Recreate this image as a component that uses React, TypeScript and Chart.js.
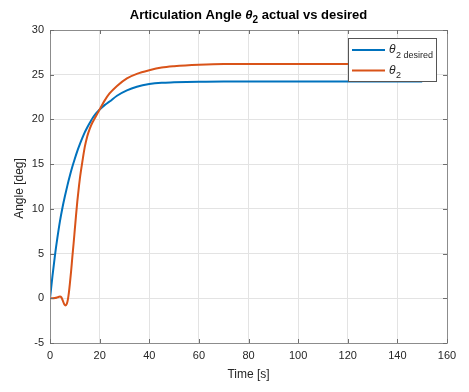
import React, { useEffect, useRef } from "react";
import { Chart, registerables } from "chart.js";

Chart.register(...registerables);

// ---- data ----
const desiredTime = [0, 1, 2, 3, 4, 5, 6, 7, 8, 9, 10, 11, 12, 13, 14, 15, 16, 17.5, 20, 22, 24, 27, 31, 35, 40, 45, 50, 60, 70, 80, 100, 120, 150];
const desiredAngle = [0, 2.5, 4.8, 6.8, 8.6, 10.1, 11.4, 12.6, 13.7, 14.7, 15.6, 16.45, 17.2, 17.9, 18.55, 19.1, 19.6, 20.3, 21.1, 21.6, 22.0, 22.65, 23.25, 23.65, 23.95, 24.1, 24.15, 24.22, 24.25, 24.25, 24.25, 24.25, 24.25];

const actualTime = [0, 1, 2, 3, 4, 4.6, 5.2, 5.8, 6.3, 6.8, 7.2, 7.6, 8, 8.5, 9, 9.5, 10, 10.5, 11, 11.5, 12, 12.5, 13, 14, 15, 16, 17, 18, 19, 20, 22, 24, 27, 31, 35, 40, 45, 50, 60, 70, 80, 100, 120, 150];
const actualAngle = [0, 0, 0.02, 0.1, 0.2, 0.1, -0.3, -0.7, -0.8, -0.6, -0.15, 0.6, 1.6, 3.0, 4.6, 6.1, 7.7, 9.3, 10.8, 12.1, 13.3, 14.3, 15.2, 16.9, 18.1, 18.95, 19.6, 20.1, 20.6, 21.1, 22.1, 22.9, 23.75, 24.6, 25.1, 25.5, 25.8, 25.95, 26.12, 26.2, 26.2, 26.2, 26.2, 26.2];

const xTicks = [0, 20, 40, 60, 80, 100, 120, 140, 160];
const yTicks = [-5, 0, 5, 10, 15, 20, 25, 30];

const titleParts = ["Articulation Angle ", "θ", "2", " actual vs desired"];
const xLabel = "Time [s]";
const yLabel = "Angle [deg]";
const legendSymbol = "θ";
const legendSubs = ["2 desired", "2"];

const BLUE = "#0072BD";
const ORANGE = "#D95319";
const FONT = '"Liberation Sans", Arial, Helvetica, sans-serif';
const TEXT = "#262626";

const overlay = {
  id: "matlabOverlay",
  afterDraw(chart: any) {
    const { ctx, chartArea } = chart;
    const { left, right, top, bottom } = chartArea;
    const xs = chart.scales.x;
    const ys = chart.scales.y;
    ctx.save();
    // frame
    ctx.strokeStyle = "#8c8c8c";
    ctx.lineWidth = 1;
    ctx.beginPath();
    ctx.rect(Math.round(left) + 0.5, Math.round(top) + 0.5, Math.round(right - left), Math.round(bottom - top));
    ctx.stroke();
    // inner ticks
    ctx.strokeStyle = "#6e6e6e";
    ctx.beginPath();
    xTicks.forEach((v) => {
      const px = Math.round(xs.getPixelForValue(v)) + 0.5;
      ctx.moveTo(px, bottom);
      ctx.lineTo(px, bottom - 4);
      ctx.moveTo(px, top);
      ctx.lineTo(px, top + 4);
    });
    yTicks.forEach((v) => {
      const py = Math.round(ys.getPixelForValue(v)) + 0.5;
      ctx.moveTo(left, py);
      ctx.lineTo(left + 4, py);
      ctx.moveTo(right, py);
      ctx.lineTo(right - 4, py);
    });
    ctx.stroke();

    // title with subscript
    ctx.fillStyle = "#000";
    ctx.textBaseline = "alphabetic";
    ctx.textAlign = "left";
    const fonts = [
      `bold 13px ${FONT}`,
      `italic bold 13px ${FONT}`,
      `bold 10px ${FONT}`,
      `bold 13px ${FONT}`,
    ];
    const dys = [0, 0, 4, 0];
    let total = 0;
    const widths = titleParts.map((t, i) => {
      ctx.font = fonts[i];
      const w = ctx.measureText(t).width;
      total += w;
      return w;
    });
    let x = (left + right) / 2 - total / 2;
    titleParts.forEach((t, i) => {
      ctx.font = fonts[i];
      ctx.fillText(t, x, 19 + dys[i]);
      x += widths[i];
    });

    // axis labels
    ctx.fillStyle = TEXT;
    ctx.font = `12px ${FONT}`;
    ctx.textAlign = "center";
    ctx.textBaseline = "middle";
    ctx.fillText(xLabel, (left + right) / 2, 375);
    ctx.save();
    ctx.translate(20, (top + bottom) / 2 + 2);
    ctx.rotate(-Math.PI / 2);
    ctx.fillText(yLabel, 0, 0);
    ctx.restore();

    // legend
    const bx = 348.5, by = 38.5, bw = 88, bh = 43;
    ctx.fillStyle = "#fff";
    ctx.fillRect(bx, by, bw, bh);
    ctx.strokeStyle = "#555";
    ctx.lineWidth = 1;
    ctx.strokeRect(bx, by, bw, bh);
    const rows = [
      { color: BLUE, y: 50, sub: legendSubs[0] },
      { color: ORANGE, y: 70.5, sub: legendSubs[1] },
    ];
    rows.forEach((r) => {
      ctx.strokeStyle = r.color;
      ctx.lineWidth = 2;
      ctx.beginPath();
      ctx.moveTo(352, r.y);
      ctx.lineTo(385, r.y);
      ctx.stroke();
      ctx.fillStyle = TEXT;
      ctx.textAlign = "left";
      ctx.textBaseline = "alphabetic";
      ctx.font = `italic 12px ${FONT}`;
      ctx.fillText(legendSymbol, 389, r.y + 3);
      const w = ctx.measureText(legendSymbol).width;
      ctx.font = `9px ${FONT}`;
      ctx.fillText(r.sub, 389 + w + 0.5, r.y + 7.5);
    });
    ctx.restore();
  },
};

export default function App() {
  const ref = useRef<HTMLCanvasElement | null>(null);
  useEffect(() => {
    document.body.style.margin = "0";
    if (!ref.current) return;
    const chart = new Chart(ref.current, {
      type: "line",
      data: {
        datasets: [
          {
            label: "θ2 desired",
            data: desiredTime.map((t, i) => ({ x: t, y: desiredAngle[i] })),
            borderColor: BLUE,
            backgroundColor: BLUE,
            borderWidth: 2,
            pointRadius: 0,
            cubicInterpolationMode: "monotone",
            order: 1,
          },
          {
            label: "θ2",
            data: actualTime.map((t, i) => ({ x: t, y: actualAngle[i] })),
            borderColor: ORANGE,
            backgroundColor: ORANGE,
            borderWidth: 2,
            pointRadius: 0,
            cubicInterpolationMode: "monotone",
            order: 0,
          },
        ],
      },
      options: {
        animation: false,
        responsive: false,
        devicePixelRatio: 1,
        layout: { padding: { top: 30, right: 22, left: 0, bottom: 0 } },
        plugins: {
          legend: { display: false },
          title: { display: false },
          tooltip: { enabled: false },
        },
        scales: {
          x: {
            type: "linear",
            min: 0,
            max: 160,
            afterBuildTicks: (s: any) => {
              s.ticks = xTicks.map((v) => ({ value: v }));
            },
            afterFit: (s: any) => {
              s.height = 49;
            },
            ticks: {
              color: TEXT,
              font: { family: FONT, size: 11 },
              padding: 6,
              maxRotation: 0,
            },
            grid: { color: "#e3e3e3", drawTicks: false },
            border: { display: false },
          },
          y: {
            type: "linear",
            min: -5,
            max: 30,
            afterBuildTicks: (s: any) => {
              s.ticks = yTicks.map((v) => ({ value: v }));
            },
            afterFit: (s: any) => {
              s.width = 50;
            },
            ticks: {
              color: TEXT,
              font: { family: FONT, size: 11 },
              padding: 6,
            },
            grid: { color: "#e3e3e3", drawTicks: false },
            border: { display: false },
          },
        },
      },
      plugins: [overlay],
    } as any);
    return () => chart.destroy();
  }, []);
  return (
    <div style={{ width: 469, height: 392, background: "#fff" }}>
      <canvas ref={ref} width={469} height={392} style={{ display: "block" }} />
    </div>
  );
}
